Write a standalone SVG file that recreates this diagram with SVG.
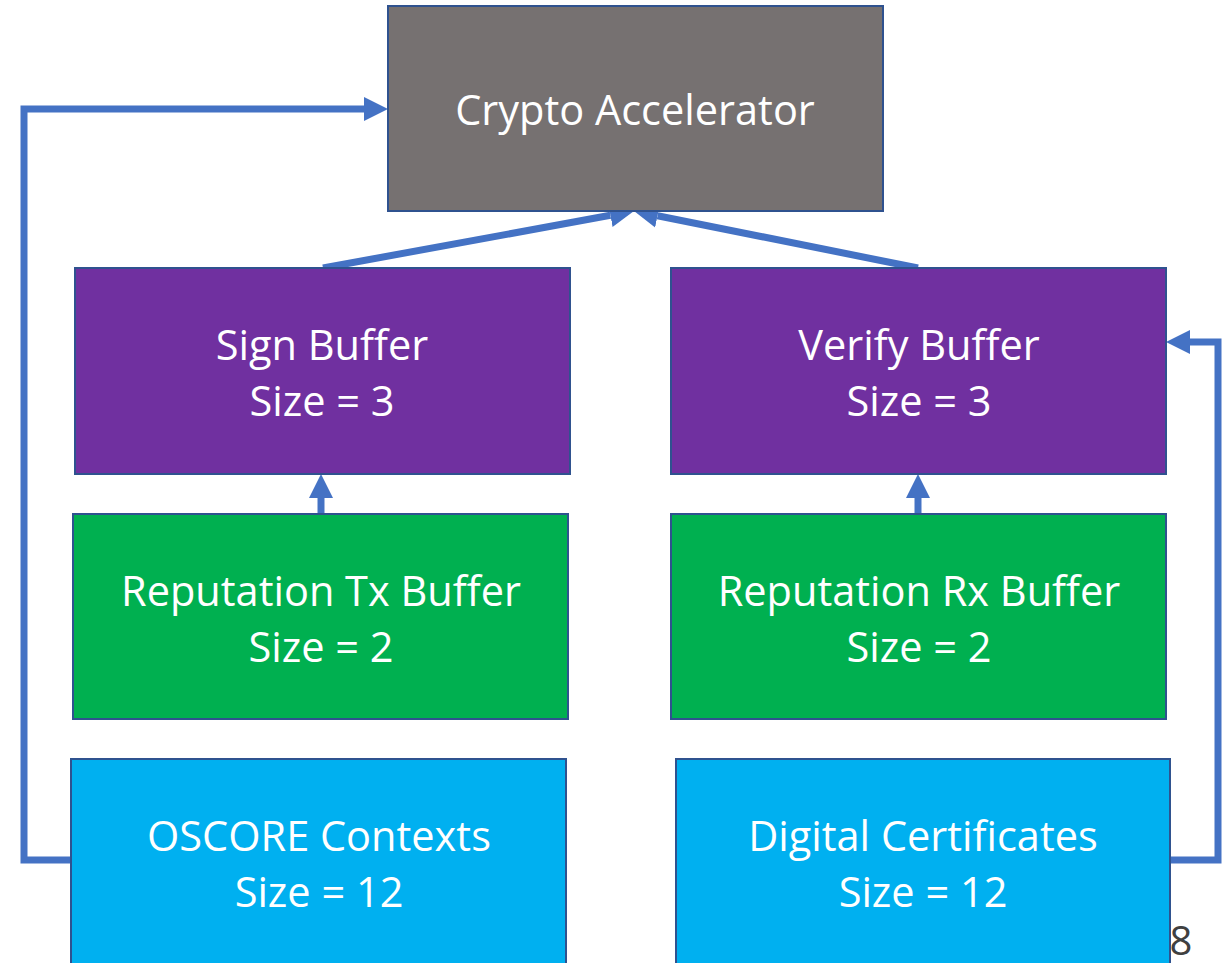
<svg xmlns="http://www.w3.org/2000/svg" width="1223" height="963" viewBox="0 0 1223 963">
<style>
.box{stroke:#2F528F;stroke-width:2}
.t{font-family:"Open Sans","Liberation Sans",sans-serif;font-size:41.5px;fill:#FFFFFF;text-anchor:middle}
.c{fill:none;stroke:#4472C4;stroke-width:7}
</style>
<defs>
<marker id="ah" markerUnits="userSpaceOnUse" markerWidth="26" markerHeight="26" viewBox="0 0 26 26" refX="0" refY="13" orient="auto">
<path d="M0,1 L24,13 L0,25 Z" fill="#4472C4"/>
</marker>
</defs>
<rect width="1223" height="963" fill="#FFFFFF"/>
<g id="connectors">
<polyline class="c" points="71,860 24,860 24,109 364,109" marker-end="url(#ah)"/>
<polyline class="c" points="1170,860 1218,860 1218,342 1190,342" marker-end="url(#ah)"/>
<line class="c" x1="323" y1="268" x2="610.4" y2="215.3" marker-end="url(#ah)"/>
<line class="c" x1="918" y1="268" x2="657.5" y2="215.7" marker-end="url(#ah)"/>
<line class="c" x1="321" y1="514" x2="321" y2="498" marker-end="url(#ah)"/>
<line class="c" x1="918" y1="514" x2="918" y2="498" marker-end="url(#ah)"/>
</g>
<g id="crypto">
<rect class="box" x="388" y="6" width="495" height="205" fill="#767171"/>
<text class="t" x="635" y="125">Crypto Accelerator</text>
</g>
<g id="sign">
<rect class="box" x="75" y="268" width="495" height="206" fill="#7030A0"/>
<text class="t" x="322" y="360">Sign Buffer</text>
<text class="t" x="322" y="416">Size = 3</text>
</g>
<g id="verify">
<rect class="box" x="671" y="268" width="495" height="206" fill="#7030A0"/>
<text class="t" x="919" y="360">Verify Buffer</text>
<text class="t" x="919" y="416">Size = 3</text>
</g>
<g id="reptx">
<rect class="box" x="73" y="514" width="495" height="205" fill="#00B050"/>
<text class="t" x="321" y="606">Reputation Tx Buffer</text>
<text class="t" x="321" y="662">Size = 2</text>
</g>
<g id="reprx">
<rect class="box" x="671" y="514" width="495" height="205" fill="#00B050"/>
<text class="t" x="919" y="606">Reputation Rx Buffer</text>
<text class="t" x="919" y="662">Size = 2</text>
</g>
<g id="oscore">
<rect class="box" x="71" y="759" width="495" height="210" fill="#00B0F0"/>
<text class="t" x="319" y="851">OSCORE Contexts</text>
<text class="t" x="319" y="907">Size = 12</text>
</g>
<g id="certs">
<rect class="box" x="676" y="759" width="494" height="210" fill="#00B0F0"/>
<text class="t" x="923" y="851">Digital Certificates</text>
<text class="t" x="923" y="907">Size = 12</text>
</g>
<text x="1181" y="955" font-family="Open Sans, Liberation Sans, sans-serif" font-size="40" fill="#404040" text-anchor="middle">8</text>
</svg>
